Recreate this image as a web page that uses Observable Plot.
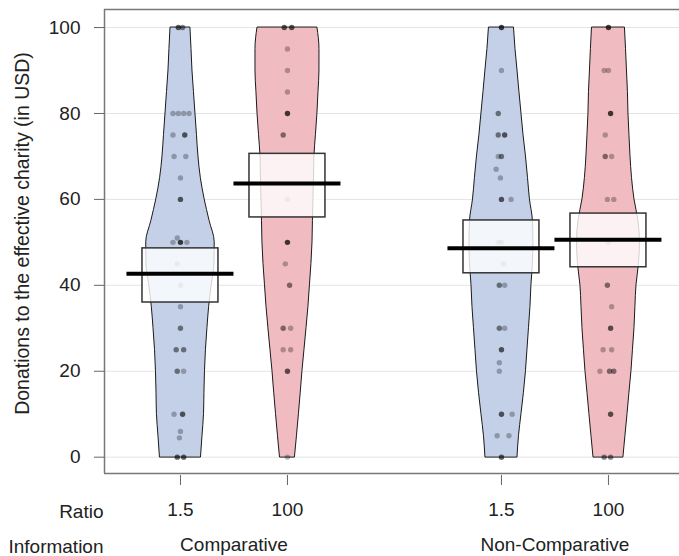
<!DOCTYPE html>
<html>
<head>
<meta charset="utf-8">
<script src="https://cdn.jsdelivr.net/npm/d3@7"></script>
<script src="https://cdn.jsdelivr.net/npm/@observablehq/plot@0.6"></script>
<style>
  html, body { margin: 0; padding: 0; background: #fff; }
</style>
</head>
<body>
<div id="chart"></div>
<script>
// ---------------- DATA ----------------
const infoLevels = ["Comparative", "Non-Comparative"];
const ratioLevels = ["1.5", "100"];
const factorNames = ["Ratio", "Information"];
const yTicks = [0, 20, 40, 60, 80, 100];
const yTitle = "Donations to the effective charity (in USD)";

// bean (density) half-widths, in x units, at these donation levels
const densityLevels = [0, 5, 10, 15, 20, 25, 30, 35, 40, 45, 50, 55, 60, 65, 70, 75, 80, 85, 90, 95, 100];
const densComp15 = [0.192, 0.206, 0.220, 0.224, 0.229, 0.238, 0.252, 0.268, 0.292, 0.318, 0.320, 0.272, 0.226, 0.190, 0.168, 0.154, 0.140, 0.126, 0.112, 0.103, 0.093];
const densComp100 = [0.070, 0.089, 0.107, 0.124, 0.140, 0.159, 0.178, 0.196, 0.210, 0.224, 0.234, 0.238, 0.243, 0.248, 0.252, 0.266, 0.280, 0.290, 0.299, 0.299, 0.280];
const densNon15 = [0.150, 0.164, 0.187, 0.210, 0.229, 0.243, 0.257, 0.271, 0.280, 0.294, 0.299, 0.294, 0.266, 0.248, 0.229, 0.206, 0.187, 0.168, 0.150, 0.131, 0.117];
const densNon100 = [0.140, 0.159, 0.178, 0.196, 0.215, 0.229, 0.243, 0.252, 0.262, 0.285, 0.294, 0.280, 0.243, 0.220, 0.206, 0.196, 0.187, 0.182, 0.173, 0.164, 0.154];

// means and HDI intervals (order: Comp 1.5, Comp 100, Non 1.5, Non 100)
const means = [42.7, 63.7, 48.6, 50.6];
const hdiLow = [36.0, 55.8, 42.8, 44.2];
const hdiHigh = [48.6, 70.6, 55.1, 56.7];

// raw observations: [donation, jitter, overlapping count]
const ptsComp15 = [
  [100, -0.02, 3], [100, 0.02, 2],
  [80, -0.07, 1], [80, -0.02, 1], [80, 0.03, 1], [80, 0.08, 1],
  [75, -0.07, 1], [75, 0.04, 3],
  [70, -0.06, 1], [70, 0.05, 1],
  [65, 0, 1], [60, 0, 3],
  [51, -0.03, 1], [50, 0, 4], [50, 0.06, 1], [50, -0.07, 1],
  [45, -0.03, 1], [40, 0, 1], [35, 0, 1],
  [30, 0, 2],
  [25, -0.04, 2], [25, 0.03, 2],
  [20, -0.03, 2], [20, 0.03, 1],
  [10, -0.06, 1], [10, 0.02, 3],
  [6, 0, 1], [4.5, -0.01, 1],
  [0, -0.03, 3], [0, 0.03, 3]
];
const ptsComp100 = [
  [100, -0.03, 3], [100, 0.04, 3],
  [95, 0, 1], [90, 0, 1], [85, 0, 1],
  [80, 0, 4], [75, -0.04, 2],
  [60, 0, 1],
  [50, 0, 4], [45, -0.02, 1], [40, 0.02, 2],
  [30, -0.04, 2], [30, 0.03, 1],
  [25, -0.04, 1], [25, 0.03, 1],
  [20, 0, 3],
  [0, 0, 1]
];
const ptsNon15 = [
  [100, 0, 4],
  [90, 0, 1],
  [80, -0.03, 2],
  [75, -0.03, 2], [75, 0.03, 3],
  [70, 0, 2], [70, -0.03, 1],
  [67, -0.05, 1], [65, -0.01, 1],
  [60, 0, 3], [60, 0.09, 1],
  [50, 0, 1], [50, -0.03, 1], [45, 0.02, 1],
  [40, -0.02, 2], [40, 0.03, 1],
  [30, -0.02, 2], [30, 0.03, 1],
  [25, 0, 3],
  [22, -0.02, 1], [20, -0.02, 1],
  [10, 0, 3], [10, 0.1, 1],
  [5, -0.04, 1], [5, 0.07, 1],
  [0, 0, 3]
];
const ptsNon100 = [
  [100, 0, 4],
  [90, -0.04, 1], [90, 0, 1],
  [80, 0.02, 4],
  [75, -0.03, 1],
  [70, -0.03, 2], [70, 0.03, 1],
  [60, -0.01, 1], [60, 0.05, 1],
  [50, 0, 1],
  [40, -0.01, 2],
  [35, 0.03, 1],
  [30, 0.02, 3],
  [25, -0.05, 1], [25, 0.03, 1],
  [20, -0.08, 1], [20, 0.01, 2], [20, 0.05, 2],
  [10, 0.02, 3],
  [0, -0.04, 2], [0, 0.02, 2]
];

// ---------------- BUILD TABLES ----------------
const densities = [densComp15, densComp100, densNon15, densNon100];
const points = [ptsComp15, ptsComp100, ptsNon15, ptsNon100];

const groups = [];
infoLevels.forEach((info, i) => {
  ratioLevels.forEach((ratio, j) => {
    const k = groups.length;
    groups.push({
      k, info, ratio,
      pos: i * 3 + j + 1,
      mean: means[k], lo: hdiLow[k], hi: hdiHigh[k]
    });
  });
});

const beans = groups.flatMap(g =>
  densityLevels.map((lvl, i) => ({
    g: g.k, ratio: g.ratio, y: lvl,
    x1: g.pos - densities[g.k][i],
    x2: g.pos + densities[g.k][i]
  }))
);

const dots = groups.flatMap(g =>
  points[g.k].map(([v, jit, n]) => ({ g: g.k, y: v, x: g.pos + jit, n }))
);

const ratioTicks = groups.map(g => g.pos);
const infoTicks = infoLevels.map((_, i) => i * 3 + 1.5);

const xDomain = [0.29, 5.664];
const yDomain = [-3.8, 104.2];
const BOX = 0.355, AVG = 0.5;
const font = "'Liberation Sans', Arial, Helvetica, sans-serif";

const chart = Plot.plot({
  width: 679,
  height: 556,
  marginTop: 9,
  marginBottom: 83,
  marginLeft: 104,
  marginRight: 0,
  style: { fontFamily: font, fontSize: "19px", color: "#222", background: "#fff" },
  x: { type: "linear", domain: xDomain },
  y: { domain: yDomain },
  color: { domain: ratioLevels, range: ["#c4d0e8", "#f1bcc1"] },
  marks: [
    Plot.gridY(yTicks, { stroke: "#e4e4e4", strokeOpacity: 1, strokeWidth: 1 }),
    Plot.areaX(beans, {
      y: "y", x1: "x1", x2: "x2", z: "g", fill: "ratio",
      stroke: "#1a1a1a", strokeWidth: 1, curve: "monotone-y"
    }),
    Plot.dot(dots, {
      x: "x", y: "y", r: 2.7, fill: "#000",
      fillOpacity: d => 1 - Math.pow(0.72, d.n), stroke: null
    }),
    Plot.rect(groups, {
      x1: d => d.pos - BOX, x2: d => d.pos + BOX, y1: "lo", y2: "hi",
      fill: "#fff", fillOpacity: 0.8, stroke: "#333", strokeWidth: 1.5
    }),
    Plot.ruleY(groups, {
      y: "mean", x1: d => d.pos - AVG, x2: d => d.pos + AVG,
      stroke: "#000", strokeWidth: 4
    }),
    Plot.ruleX([xDomain[0]], { stroke: "#777", strokeWidth: 1.5 }),
    Plot.ruleY([yDomain[0], yDomain[1]], { stroke: "#777", strokeWidth: 1.5 }),
    Plot.axisY(yTicks, {
      tickSize: 10, tickPadding: 14, stroke: "#666", fontSize: 19, label: null
    }),
    Plot.axisX(ratioTicks, {
      tickSize: 10, dy: 2, tickPadding: 17, stroke: "#666", fontSize: 19,
      tickFormat: (d, i) => groups[i].ratio, label: null
    }),
    Plot.axisX(infoTicks, {
      tickSize: 0, tickPadding: 64, fontSize: 19,
      tickFormat: (d, i) => infoLevels[i], label: null
    }),
    Plot.text([factorNames[0]], {
      text: d => d, frameAnchor: "bottom-left", textAnchor: "end",
      dx: -1, dy: 44, fontSize: 19
    }),
    Plot.text([factorNames[1]], {
      text: d => d, frameAnchor: "bottom-left", textAnchor: "end",
      dx: -1, dy: 79, fontSize: 19
    }),
    Plot.text([yTitle], {
      text: d => d, frameAnchor: "left", textAnchor: "middle", lineAnchor: "middle",
      rotate: -90, dx: -82, dy: -8, fontSize: 19.5
    })
  ]
});
document.getElementById("chart").appendChild(chart);
</script>
</body>
</html>
